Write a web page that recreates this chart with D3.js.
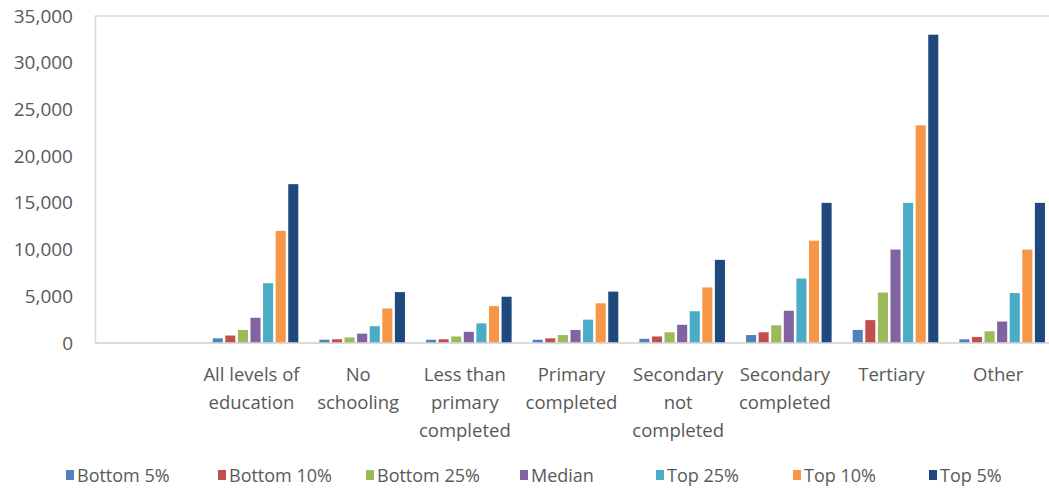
<!DOCTYPE html>
<html>
<head>
<meta charset="utf-8">
<script src="https://cdn.jsdelivr.net/npm/d3@7"></script>
<style>
  body { margin: 0; background: #fff; }
  text { font-family: "Open Sans", "Noto Sans", sans-serif; fill: #595959; }
</style>
</head>
<body>
<svg width="1049" height="491"></svg>
<script>
// categories (first one is blank in the original chart)
var categories = ["", "All levels of education", "No schooling", "Less than primary completed",
  "Primary completed", "Secondary not completed", "Secondary completed", "Tertiary", "Other"];
// how the category labels wrap
var categoryLines = [[], ["All levels of", "education"], ["No", "schooling"], ["Less than", "primary", "completed"],
  ["Primary", "completed"], ["Secondary", "not", "completed"], ["Secondary", "completed"], ["Tertiary"], ["Other"]];

var seriesNames = ["Bottom 5%", "Bottom 10%", "Bottom 25%", "Median", "Top 25%", "Top 10%", "Top 5%"];
var seriesColors = ["#4F81BD", "#C0504D", "#9BBB59", "#8064A2", "#4BACC6", "#F79646", "#1F497D"];

// values per category
var bottom5  = [0, 500, 350, 350, 350, 450, 850, 1400, 400];
var bottom10 = [0, 800, 400, 400, 500, 700, 1150, 2450, 650];
var bottom25 = [0, 1400, 600, 700, 850, 1150, 1900, 5400, 1250];
var median   = [0, 2700, 1000, 1200, 1400, 1950, 3450, 10000, 2300];
var top25    = [0, 6400, 1800, 2100, 2500, 3400, 6900, 15000, 5350];
var top10    = [0, 12000, 3700, 3950, 4250, 5950, 10950, 23300, 10000];
var top5     = [0, 17000, 5450, 4950, 5500, 8900, 15000, 33000, 15000];

var yTicks = [0, 5000, 10000, 15000, 20000, 25000, 30000, 35000];

var seriesValues = [bottom5, bottom10, bottom25, median, top25, top10, top5];

drawChart();

function drawChart() {
  var svg = d3.select("svg");

  var plotLeft = 95.5, plotRight = 1055.5, plotTop = 16, plotBottom = 343;

  var x0 = d3.scaleBand().domain(categories.map((d, i) => i)).range([plotLeft, plotRight]);
  var groupW = 85.6;
  var x1 = d3.scaleBand().domain(seriesNames).range([0, groupW]).paddingInner(0.2);
  var y = d3.scaleLinear().domain([0, 35000]).range([plotBottom, plotTop]);

  // plot frame
  svg.append("rect")
    .attr("x", plotLeft).attr("y", plotTop)
    .attr("width", plotRight - plotLeft).attr("height", plotBottom - plotTop)
    .attr("fill", "none").attr("stroke", "#d9d9d9").attr("stroke-width", 1.5);

  // y axis labels
  var yAxis = d3.axisLeft(y).tickValues(yTicks).tickFormat(d3.format(",")).tickSize(0).tickPadding(0);
  var gy = svg.append("g")
    .attr("transform", "translate(73,0)")
    .call(yAxis);
  gy.select(".domain").remove();
  gy.selectAll("text").style("font-size", "19px").attr("fill", "#595959")
    .style("font-family", "'Open Sans', 'Noto Sans', sans-serif");

  // bars
  var rows = [];
  categories.forEach(function (c, i) {
    seriesNames.forEach(function (s, j) {
      rows.push({ cat: i, series: s, value: seriesValues[j][i], color: seriesColors[j] });
    });
  });

  var offset = (x0.bandwidth() - groupW) / 2;
  svg.append("g").selectAll("rect")
    .data(rows.filter(d => d.value > 0))
    .enter()
    .append("rect")
    .attr("x", d => x0(d.cat) + offset + x1(d.series))
    .attr("y", d => y(d.value))
    .attr("width", x1.bandwidth())
    .attr("height", d => y(0) - y(d.value))
    .attr("fill", d => d.color);

  // baseline
  svg.append("line")
    .attr("x1", plotLeft).attr("x2", plotRight)
    .attr("y1", plotBottom).attr("y2", plotBottom)
    .attr("stroke", "#d9d9d9").attr("stroke-width", 1.5);

  // category labels
  var catG = svg.append("g").selectAll("text")
    .data(categoryLines)
    .enter()
    .append("text")
    .attr("x", (d, i) => x0(i) + x0.bandwidth() / 2 - 4)
    .attr("y", 381)
    .attr("text-anchor", "middle")
    .style("font-size", "18.5px");
  catG.selectAll("tspan")
    .data(d => d)
    .enter()
    .append("tspan")
    .attr("x", function () { return d3.select(this.parentNode).attr("x"); })
    .attr("dy", (d, i) => i === 0 ? 0 : 28)
    .text(d => d);

  // legend
  var legendX = [66, 218, 366, 520, 656, 793, 929];
  var legend = svg.append("g").selectAll("g")
    .data(seriesNames)
    .enter()
    .append("g")
    .attr("transform", (d, i) => `translate(${legendX[i]},475)`);
  legend.append("rect")
    .attr("x", 0).attr("y", -5)
    .attr("width", 8).attr("height", 10)
    .attr("fill", (d, i) => seriesColors[i]);
  legend.append("text")
    .attr("x", 11).attr("y", 6.5)
    .style("font-size", "18px")
    .text(d => d);
}
</script>
</body>
</html>
